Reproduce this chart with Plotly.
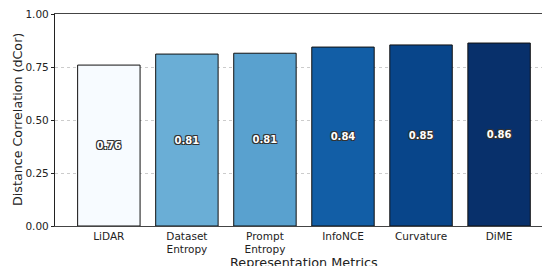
import plotly.graph_objects as go

categories = ["LiDAR", "Dataset<br>Entropy", "Prompt<br>Entropy", "InfoNCE", "Curvature", "DiME"]
values = [0.759, 0.811, 0.815, 0.844, 0.854, 0.863]
labels = ["0.76", "0.81", "0.81", "0.84", "0.85", "0.86"]
colors = ["#f7fbff", "#6aaed6", "#59a1cf", "#125ea6", "#08458a", "#08306b"]
y_ticks = [0.0, 0.25, 0.5, 0.75, 1.0]
y_ticktext = ["0.00", "0.25", "0.50", "0.75", "1.00"]

W, H = 542, 266
L, R, T, B = 55, 0, 14, 40

x_idx = list(range(len(categories)))

fig = go.Figure()
fig.add_trace(go.Bar(
    x=x_idx, y=values, width=0.8,
    marker=dict(color=colors, line=dict(color="#111111", width=1)),
    text=labels, textposition="inside", insidetextanchor="middle", textangle=0,
    textfont=dict(family="DejaVu Sans", size=10, color="white", weight="bold",
                  shadow="-1px -1px 0 #333, 1px -1px 0 #333, -1px 1px 0 #333, 1px 1px 0 #333"),
    cliponaxis=False,
))

fig.update_layout(
    width=W, height=H,
    margin=dict(l=L, r=R, t=T, b=B, autoexpand=False),
    paper_bgcolor="white", plot_bgcolor="white",
    font=dict(family="DejaVu Sans", color="#222222", size=10),
    showlegend=False,
    bargap=0.2,
)
fig.update_xaxes(
    automargin=False,
    range=[-0.69, 5.55],
    tickmode="array", tickvals=x_idx, ticktext=categories,
    showgrid=False, zeroline=False,
    showline=True, linecolor="#444444", linewidth=1.2, mirror=True,
    ticks="", tickfont=dict(size=10.5, color="#222222"),
)
fig.update_yaxes(
    automargin=False,
    range=[0, 1.0],
    tickmode="array", tickvals=y_ticks, ticktext=y_ticktext,
    showgrid=True, gridcolor="#cccccc", griddash="dot", gridwidth=1,
    zeroline=False,
    showline=True, linecolor="#222222", linewidth=1.2, mirror=False,
    ticks="outside", ticklen=3, tickcolor="#222222",
    tickfont=dict(size=10.5, color="#222222"),
)
fig.add_annotation(
    text="Distance Correlation (dCor)", xref="paper", yref="paper",
    x=0, y=0.5, xshift=17 - L, xanchor="center", yanchor="middle", textangle=-90,
    showarrow=False, font=dict(size=12.7, color="#222222"),
)
fig.add_annotation(
    text="Representation Metrics", xref="paper", yref="paper",
    x=(304 - L) / (W - L - R), y=0, yshift=-(262 - 226), yanchor="middle",
    showarrow=False, font=dict(size=12.8, color="#222222"),
)

fig.write_html("out.html", config={"displayModeBar": False},
               post_script="document.body.style.margin='0';document.body.style.padding='0';document.body.style.overflow='hidden';")
